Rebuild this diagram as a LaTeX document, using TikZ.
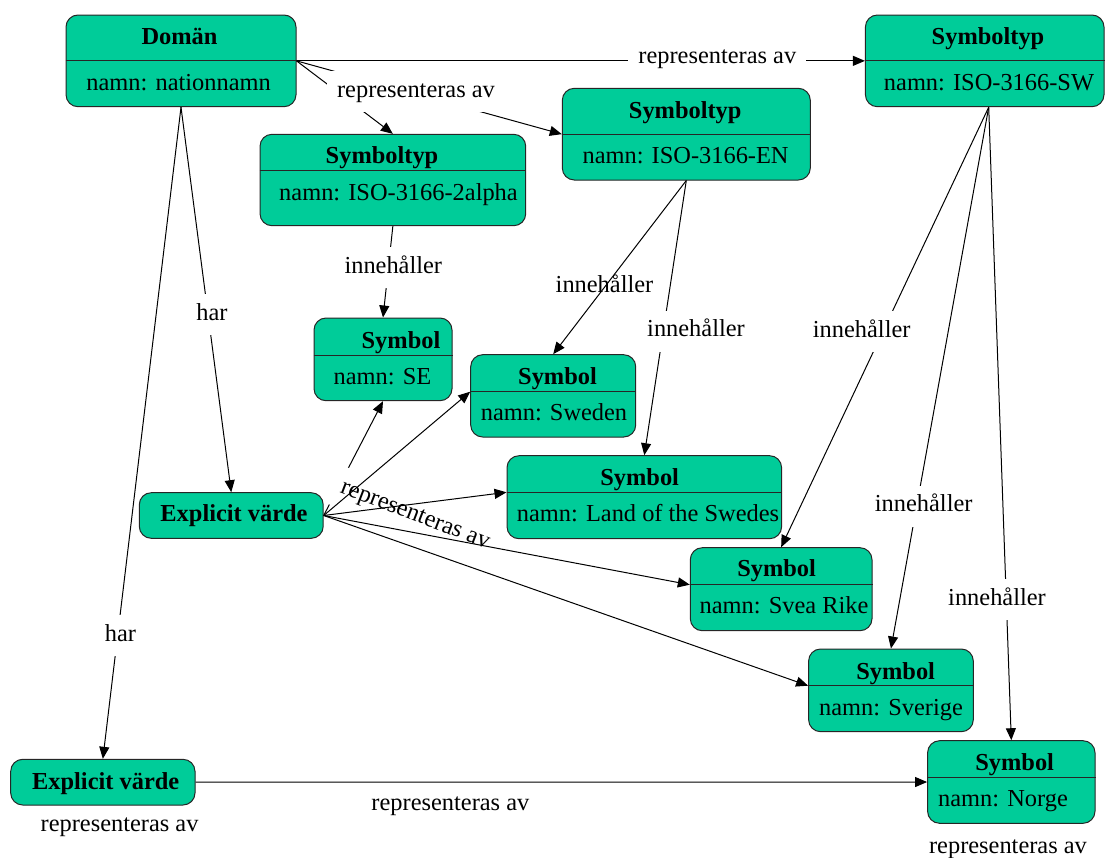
\documentclass[tikz,border=0pt]{standalone}
\usepackage{fontspec}
\setmainfont{Liberation Serif}
\usetikzlibrary{arrows.meta}
\definecolor{boxgreen}{RGB}{0,204,153}
\begin{document}
\begin{tikzpicture}[x=1pt,y=-1pt,
  umlbox/.style={draw=black!85, fill=boxgreen, rounded corners=12pt, line width=1pt, inner sep=0pt},
  divline/.style={draw=black!85, line width=1pt},
  txt/.style={font=\fontsize{24.4}{29}\selectfont, inner sep=0pt, anchor=base},
  ttl/.style={font=\fontsize{24.4}{29}\selectfont\bfseries, inner sep=0pt, anchor=base},
  lbl/.style={font=\fontsize{24.4}{29}\selectfont, inner xsep=10pt, inner ysep=10pt, text height=16pt, text depth=5pt, anchor=base},
  masklbl/.style={lbl, fill=white},
  conn/.style={draw=black, line width=1pt, -{Triangle[length=12pt,width=10pt]}}
]
\useasboundingbox (0,0) rectangle (1105,857);

% ---------- boxes ----------
\node[umlbox, minimum width=230pt, minimum height=91.7pt] (dom) at (181,60.85) {};
\draw[divline] (dom.west) -- (dom.east);
\node[ttl] (domT) at (179.5,44) {Domän};
\node[txt] (domA) at (178.6,90.7) {namn: nationnamn};

\node[umlbox, minimum width=238.6pt, minimum height=91.7pt] (sw) at (984.7,60.85) {};
\draw[divline] (sw.west) -- (sw.east);
\node[ttl] (swT) at (988,44) {Symboltyp};
\node[txt] (swA) at (989,90) {namn: ISO-3166-SW};

\node[umlbox, minimum width=248pt, minimum height=91.7pt] (en) at (686.3,134.15) {};
\draw[divline] (en.west) -- (en.east);
\node[ttl] (enT) at (685.2,118) {Symboltyp};
\node[txt] (enA) at (685.6,163) {namn: ISO-3166-EN};

\node[umlbox, minimum width=265.7pt, minimum height=91.4pt] (alpha) at (392.85,180) {};
\draw[divline] ([yshift=9.7pt]alpha.west) -- ([yshift=9.7pt]alpha.east);
\node[ttl] (alphaT) at (382,163.3) {Symboltyp};
\node[txt] (alphaA) at (398.5,200.7) {namn: ISO-3166-2alpha};

\node[umlbox, minimum width=138pt, minimum height=82.7pt] (se) at (383,359.35) {};
\draw[divline] ([yshift=4.35pt]se.west) -- ([yshift=4.35pt]se.east);
\node[ttl] (seT) at (401,348) {Symbol};
\node[txt] (seA) at (382.5,384) {namn: SE};

\node[umlbox, minimum width=165pt, minimum height=82.3pt] (sweden) at (553.2,395.85) {};
\draw[divline] ([yshift=4.15pt]sweden.west) -- ([yshift=4.15pt]sweden.east);
\node[ttl] (swedenT) at (557.5,384) {Symbol};
\node[txt] (swedenA) at (554,420.7) {namn: Sweden};

\node[umlbox, minimum width=274.6pt, minimum height=83pt] (land) at (644.3,497.2) {};
\draw[divline] ([yshift=4.9pt]land.west) -- ([yshift=4.9pt]land.east);
\node[ttl] (landT) at (639.7,485.7) {Symbol};
\node[txt] (landA) at (648,521) {namn: Land of the Swedes};

\node[umlbox, minimum width=181.7pt, minimum height=83pt] (svea) at (781.15,589.2) {};
\draw[divline] ([yshift=4.5pt]svea.west) -- ([yshift=4.5pt]svea.east);
\node[ttl] (sveaT) at (776.6,576.7) {Symbol};
\node[txt] (sveaA) at (784,613.3) {namn: Svea Rike};

\node[umlbox, minimum width=164.7pt, minimum height=82.7pt] (sverige) at (890.95,690.35) {};
\draw[divline] ([yshift=4.65pt]sverige.west) -- ([yshift=4.65pt]sverige.east);
\node[ttl] (sverigeT) at (895.7,679) {Symbol};
\node[txt] (sverigeA) at (891,715) {namn: Sverige};

\node[umlbox, minimum width=167.4pt, minimum height=82.6pt] (norge) at (1011.3,782) {};
\draw[divline] ([yshift=4.7pt]norge.west) -- ([yshift=4.7pt]norge.east);
\node[ttl] (norgeT) at (1014.7,770) {Symbol};
\node[txt] (norgeA) at (1003,806.7) {namn: Norge};

\node[umlbox, minimum width=183.9pt, minimum height=45.6pt] (ev1) at (231.25,515.5) {};
\node[ttl] (ev1T) at (234,521.7) {Explicit värde};

\node[umlbox, minimum width=184.3pt, minimum height=45.7pt] (ev2) at (102.85,782.15) {};
\node[ttl] (ev2T) at (105.7,789) {Explicit värde};

% ---------- connectors ----------
\draw[conn] (dom.east) -- (sw.west);
\draw[conn] (dom.east) -- (alpha.north);
\draw[conn] (dom.east) -- (en.west);
\draw[conn] (dom.south) -- (ev1.north);
\draw[conn] (dom.south) -- (ev2.north);
\draw[conn] (alpha.south) -- (se.north);
\draw[conn] (en.south) -- (sweden.north);
\draw[conn] (en.south) -- (land.north);
\draw[conn] ([xshift=4pt]sw.south) -- (svea.north);
\draw[conn] ([xshift=4pt]sw.south) -- (sverige.north);
\draw[conn] ([xshift=4pt]sw.south) -- (norge.north);
\draw[conn] (ev1.east) -- (se.south);
\node[masklbl, rotate=-21] (lRot) at (413,520.5) {representeras av};
\draw[conn] (ev1.east) -- ([yshift=4.15pt]sweden.west);
\draw[conn] (ev1.east) -- ([yshift=4.9pt]land.west);
\draw[conn] (ev1.east) -- ([yshift=4.5pt]svea.west);
\draw[conn] (ev1.east) -- ([yshift=4.65pt]sverige.west);
\draw[conn] (ev2.east) -- (norge.west);

% ---------- labels ----------
\node[masklbl] (lTop) at (717.3,63) {representeras av};
\node[masklbl] (lDom) at (416,97) {representeras av};
\node[masklbl] (lHar1) at (212,320) {har};
\node[masklbl] (lHar2) at (120.5,641) {har};
\node[masklbl] (lInA) at (393.3,273.3) {innehåller};
\node[lbl] (lInB) at (604.5,292.7) {innehåller};
\node[masklbl] (lInC) at (696,336.7) {innehåller};
\node[masklbl] (lInD) at (861.7,337) {innehåller};
\node[masklbl] (lInE) at (923.7,511.7) {innehåller};
\node[masklbl] (lInF) at (997,605) {innehåller};
\node[lbl] (lNor) at (450.4,810.7) {representeras av};
\node[lbl] (lEv2) at (119.6,831.7) {representeras av};
\node[lbl] (lNorB) at (1008,853) {representeras av};
\end{tikzpicture}
\end{document}
